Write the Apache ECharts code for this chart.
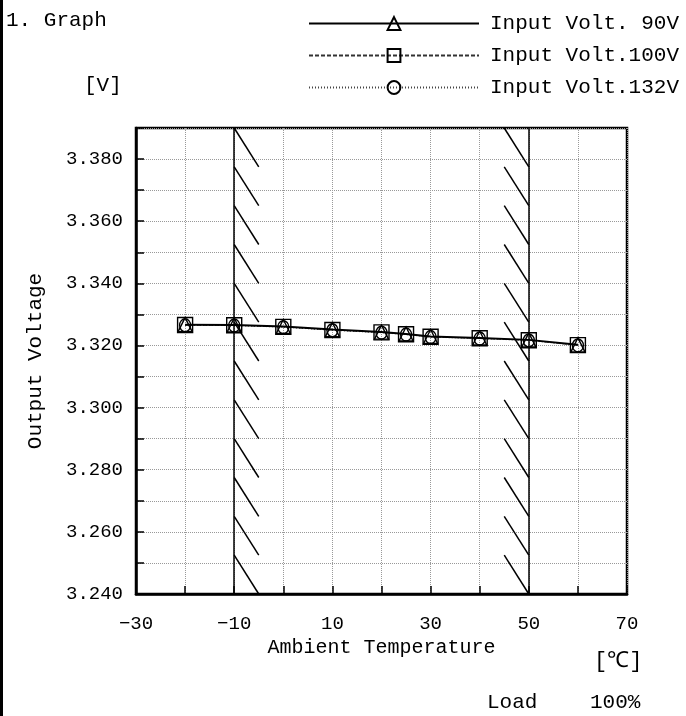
<!DOCTYPE html>
<html>
<head>
<meta charset="utf-8">
<script src="https://cdn.jsdelivr.net/npm/echarts@6/dist/echarts.min.js"></script>
<style>
html,body{margin:0;padding:0;background:#fff;}
#chart{width:686px;height:716px;}
</style>
</head>
<body>
<div id="chart"></div>
<script>
// ---- data ----
const temperatures = [-20, -10, 0, 10, 20, 25, 30, 40, 50, 60];
const volt90  = [3.3267, 3.3266, 3.3261, 3.3251, 3.3243, 3.3237, 3.3229, 3.3224, 3.3218, 3.3202];
const volt100 = [3.3266, 3.3265, 3.3260, 3.3250, 3.3242, 3.3236, 3.3228, 3.3223, 3.3217, 3.3201];
const volt132 = [3.3265, 3.3264, 3.3259, 3.3249, 3.3241, 3.3235, 3.3227, 3.3222, 3.3216, 3.3200];
const seriesNames = ['Input Volt. 90V', 'Input Volt.100V', 'Input Volt.132V'];
const xMin = -30, xMax = 70, xStep = 10;
const yMin = 3.240, yMax = 3.390, yStep = 0.010;
const limitTemps = [-10, 50];        // hatched boundary lines
const hatchCount = 12;
const hatchSpan = 5;                 // degC

const FONT = 'Liberation Mono';
const chart = echarts.init(document.getElementById('chart'), null, {renderer: 'canvas'});

// hatch / boundary line segments in data coordinates
const segs = [];
limitTemps.forEach(function (t, idx) {
  segs.push({coords: [[t, yMin], [t, yMax]]});
  const dy = (yMax - yMin) / hatchCount;
  for (let k = 0; k < hatchCount; k++) {
    const yTop = yMax - k * dy, yBot = yMax - (k + 1) * dy;
    if (idx === 0) segs.push({coords: [[t, yTop], [t + hatchSpan, yBot]]});
    else segs.push({coords: [[t - hatchSpan, yTop], [t, yBot]]});
  }
});

function mk(values) { return temperatures.map(function (t, i) { return [t, values[i]]; }); }

const markerStyle = {color: 'rgba(255,255,255,0)', borderColor: '#000', borderWidth: 1.4};

const option = {
  animation: false,
  backgroundColor: '#fff',
  textStyle: {fontFamily: FONT, color: '#000'},
  grid: {left: 136, right: 59, top: 128, bottom: 122, show: true, borderColor: '#000', borderWidth: 2.5, backgroundColor: 'transparent'},
  legend: {
    orient: 'vertical', left: 303, top: 8, itemWidth: 170, itemHeight: 16, itemGap: 11,
    data: seriesNames,
    textStyle: {fontFamily: FONT, fontSize: 21, color: '#000', padding: [0, 0, 0, 6]},
    selectedMode: false
  },
  xAxis: {
    type: 'value', min: xMin, max: xMax, interval: xStep,
    axisLine: {show: true, onZero: false, lineStyle: {color: '#000', width: 2.5}},
    axisTick: {show: true, inside: true, length: 8, lineStyle: {color: '#000', width: 1.5}},
    axisLabel: {
      fontFamily: FONT, fontSize: 19, color: '#000', margin: 20,
      formatter: function (v) { return ((Math.round(v) - xMin) % 20 === 0) ? String(Math.round(v)).replace('-', '\u2212') : ''; }
    },
    splitLine: {show: true, lineStyle: {type: 'dotted', color: '#999', width: 1}},
    name: 'Ambient Temperature', nameLocation: 'middle', nameGap: 42,
    nameTextStyle: {fontFamily: FONT, fontSize: 20, color: '#000'}
  },
  yAxis: {
    type: 'value', min: yMin, max: yMax, interval: yStep,
    axisLine: {show: true, onZero: false, lineStyle: {color: '#000', width: 2.5}},
    axisTick: {show: true, inside: true, length: 8, lineStyle: {color: '#000', width: 1.5}},
    axisLabel: {
      fontFamily: FONT, fontSize: 19, color: '#000', margin: 13,
      formatter: function (v) { const m = Math.round(v * 1000); return (m % 20 === 0) ? (m / 1000).toFixed(3) : ''; }
    },
    splitLine: {show: true, lineStyle: {type: 'dotted', color: '#999', width: 1}},
    name: 'Output Voltage', nameLocation: 'middle', nameGap: 90, nameRotate: 90,
    nameTextStyle: {fontFamily: FONT, fontSize: 21, color: '#000'}
  },
  series: [
    {
      type: 'lines', coordinateSystem: 'cartesian2d', silent: true, z: 1,
      lineStyle: {color: '#000', width: 1.5, opacity: 1, curveness: 0},
      data: segs
    },
    {
      name: seriesNames[0], type: 'line', data: mk(volt90), symbol: 'triangle', symbolSize: 14,
      itemStyle: markerStyle, lineStyle: {color: '#000', width: 2, type: 'solid'}, z: 5, emphasis: {disabled: true}
    },
    {
      name: seriesNames[1], type: 'line', data: mk(volt100), symbol: 'rect', symbolSize: 15,
      itemStyle: markerStyle, lineStyle: {color: '#333', width: 1, type: [4, 2]}, z: 4, emphasis: {disabled: true}
    },
    {
      name: seriesNames[2], type: 'line', data: mk(volt132), symbol: 'circle', symbolSize: [11, 13],
      itemStyle: markerStyle, lineStyle: {color: '#444', width: 1, type: [1, 2]}, z: 3, emphasis: {disabled: true}
    }
  ],
  graphic: [
    {type: 'line', shape: {x1: 1.5, y1: 0, x2: 1.5, y2: 716}, style: {stroke: '#000', lineWidth: 3}},
    {type: 'text', left: 6, top: 10, style: {text: '1. Graph', font: '21px "' + FONT + '"', fill: '#000'}},
    {type: 'text', left: 84, top: 75, style: {text: '[V]', font: '21px "' + FONT + '"', fill: '#000'}},
    {type: 'text', left: 594, top: 650, style: {text: '[\u2103]', font: '22px "' + FONT + '"', fill: '#000'}},
    {type: 'text', left: 487, top: 692, style: {text: 'Load', font: '21px "' + FONT + '"', fill: '#000'}},
    {type: 'text', left: 590, top: 692, style: {text: '100%', font: '21px "' + FONT + '"', fill: '#000'}}
  ]
};
chart.setOption(option);
</script>
</body>
</html>
